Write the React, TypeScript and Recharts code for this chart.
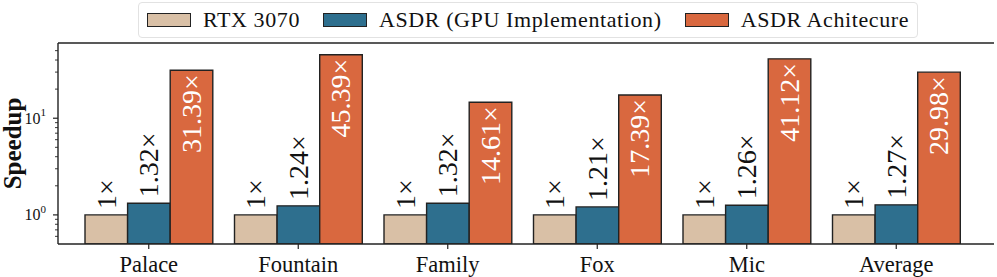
import React from "react";
import {
  BarChart,
  Bar,
  XAxis,
  YAxis,
  LabelList,
} from "recharts";

const CATEGORIES = ["Palace", "Fountain", "Family", "Fox", "Mic", "Average"];
const RTX_3070 = [1, 1, 1, 1, 1, 1];
const ASDR_GPU = [1.32, 1.24, 1.32, 1.21, 1.26, 1.27];
const ASDR_ARCH = [31.39, 45.39, 14.61, 17.39, 41.12, 29.98];
const SERIES_NAMES = ["RTX 3070", "ASDR (GPU Implementation)", "ASDR Achitecure"];
const Y_DOMAIN = [0.5, 60];
const Y_TICKS = [0.6, 0.7, 0.8, 0.9, 1, 2, 3, 4, 5, 6, 7, 8, 9, 10, 20, 30, 40, 50];

const COLORS = ["#d9c0a6", "#2e6f8e", "#d9683f"];
const EDGE = "#222";
const FONT = "Liberation Serif";

const data = CATEGORIES.map((name, i) => ({
  name,
  rtx: RTX_3070[i],
  gpu: ASDR_GPU[i],
  arch: ASDR_ARCH[i],
}));

const fmt = (v: number) => (v === 1 ? "1×" : v.toFixed(2) + "×");

const YTick = (props: any) => {
  const { x, y, payload } = props;
  const v = payload.value;
  const major = v === 1 || v === 10;
  return (
    <g>
      <line x1={x} x2={x - (major ? 5 : 3)} y1={y} y2={y} stroke={EDGE} strokeWidth={major ? 1.2 : 0.9} />
      {major && (
        <text x={x - 12} y={y} dy={5.5} textAnchor="end" fontFamily={FONT} fontSize={16} fill="#111">
          10
          <tspan dy={-7.5} fontSize={11}>
            {v === 1 ? "0" : "1"}
          </tspan>
        </text>
      )}
    </g>
  );
};

const XTick = (props: any) => {
  const { x, y, payload } = props;
  return (
    <text x={x} y={y} dy={21} textAnchor="middle" fontFamily={FONT} fontSize={22.5} fill="#111">
      {payload.value}
    </text>
  );
};

const YLabel = (props: any) => {
  const { viewBox } = props;
  const cy = viewBox.y + viewBox.height / 2;
  const bx = 21;
  return (
    <text
      x={bx}
      y={cy}
      transform={`rotate(-90 ${bx} ${cy})`}
      textAnchor="middle"
      fontFamily={FONT}
      fontSize={25}
      fontWeight={700}
      fill="#111"
    >
      Speedup
    </text>
  );
};

const AboveLabel = (props: any) => {
  const { x, y, width, value } = props;
  const cx = x + width / 2;
  const ty = y - 6;
  return (
    <text
      x={cx}
      y={ty}
      transform={`rotate(-90 ${cx} ${ty})`}
      textAnchor="start"
      dominantBaseline="central"
      fontFamily={FONT}
      fontSize={28}
      fill="#111"
    >
      {fmt(value)}
    </text>
  );
};

const InsideLabel = (props: any) => {
  const { x, y, width, value } = props;
  const cx = x + width / 2;
  const ty = y + 4;
  return (
    <text
      x={cx}
      y={ty}
      transform={`rotate(-90 ${cx} ${ty})`}
      textAnchor="end"
      dominantBaseline="central"
      fontFamily={FONT}
      fontSize={28}
      fill="#fff"
    >
      {fmt(value)}
    </text>
  );
};

function ChartLegend() {
  return (
    <div
      style={{
        position: "absolute",
        left: 138,
        top: 2,
        height: 36,
        boxSizing: "border-box",
        border: "1px solid #e2e2e2",
        borderRadius: 4,
        background: "#fff",
        display: "flex",
        alignItems: "center",
        padding: "0 8px",
        gap: 23,
        fontFamily: FONT,
        fontSize: 22,
        color: "#111",
        whiteSpace: "nowrap",
      }}
    >
      {SERIES_NAMES.map((s, i) => (
        <div key={s} style={{ display: "flex", alignItems: "center", gap: 12 }}>
          <span
            style={{
              width: 44,
              height: 14,
              boxSizing: "border-box",
              background: COLORS[i],
              border: `1.4px solid ${EDGE}`,
              display: "inline-block",
            }}
          />
          <span style={{ letterSpacing: 0.6 }}>{s}</span>
        </div>
      ))}
    </div>
  );
}

export default function App() {
  return (
    <div style={{ position: "absolute", left: 0, top: 0, width: 997, height: 277, background: "#fff" }}>
      <BarChart
        width={997}
        height={277}
        data={data}
        margin={{ top: 42, right: 3, bottom: 0, left: 0 }}
        barGap={0}
        barSize={42.6}
      >
        <XAxis
          dataKey="name"
          height={33}
          padding={{ left: 16, right: 23 }}
          tickSize={5}
          tickMargin={2}
          tick={<XTick />}
          tickLine={{ stroke: EDGE, strokeWidth: 1.2 }}
          axisLine={{ stroke: EDGE, strokeWidth: 1.4 }}
          interval={0}
        />
        <XAxis
          xAxisId="top"
          orientation="top"
          dataKey="name"
          height={1}
          tick={false}
          tickLine={false}
          axisLine={{ stroke: EDGE, strokeWidth: 1.4 }}
        />
        <YAxis
          scale="log"
          domain={Y_DOMAIN}
          allowDataOverflow
          ticks={Y_TICKS}
          interval={0}
          width={58}
          tickSize={0}
          tickMargin={0}
          tickLine={false}
          tick={<YTick />}
          axisLine={{ stroke: EDGE, strokeWidth: 1.4 }}
          label={<YLabel />}
        />
        <YAxis
          yAxisId="right"
          orientation="right"
          scale="log"
          domain={Y_DOMAIN}
          allowDataOverflow
          width={0}
          tick={false}
          tickLine={false}
          axisLine={{ stroke: EDGE, strokeWidth: 1.4 }}
        />
        <Bar dataKey="rtx" name={SERIES_NAMES[0]} fill={COLORS[0]} stroke={EDGE} strokeWidth={1.4} isAnimationActive={false}>
          <LabelList dataKey="rtx" content={<AboveLabel />} />
        </Bar>
        <Bar dataKey="gpu" name={SERIES_NAMES[1]} fill={COLORS[1]} stroke={EDGE} strokeWidth={1.4} isAnimationActive={false}>
          <LabelList dataKey="gpu" content={<AboveLabel />} />
        </Bar>
        <Bar dataKey="arch" name={SERIES_NAMES[2]} fill={COLORS[2]} stroke={EDGE} strokeWidth={1.4} isAnimationActive={false}>
          <LabelList dataKey="arch" content={<InsideLabel />} />
        </Bar>
      </BarChart>
      <ChartLegend />
    </div>
  );
}
